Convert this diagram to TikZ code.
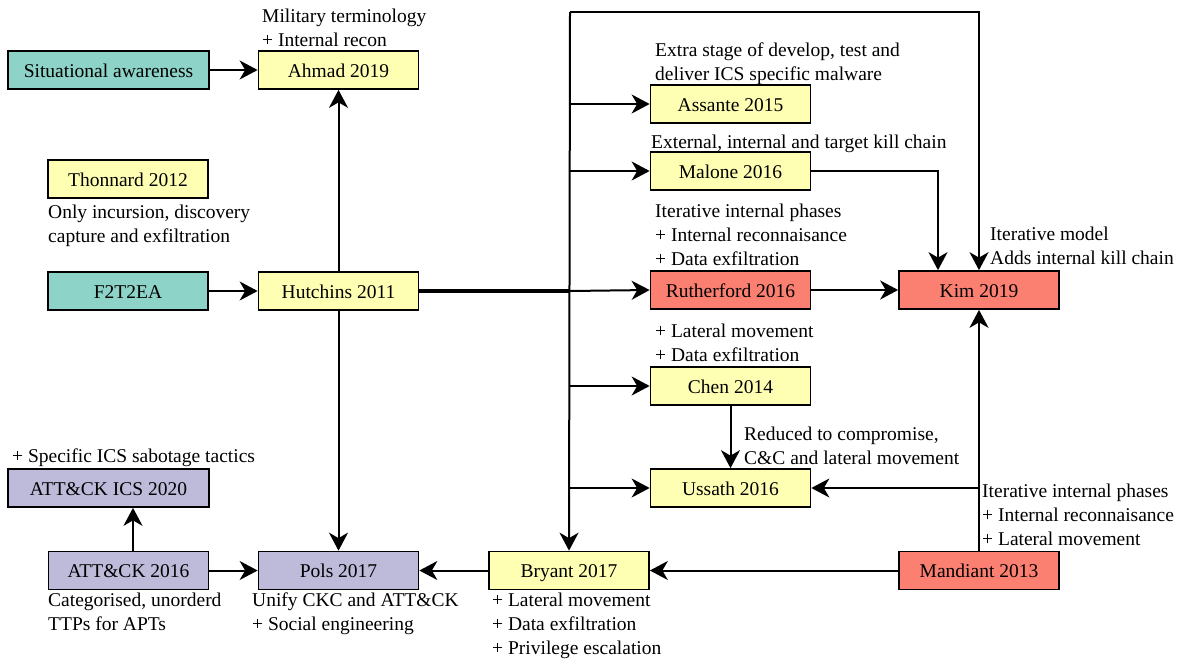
\documentclass[tikz,border=0pt]{standalone}
\usepackage{fontspec}
\setmainfont{Liberation Serif}
\usetikzlibrary{arrows.meta}
\definecolor{cteal}{HTML}{8DD3C7}
\definecolor{cyellow}{HTML}{FFFFB3}
\definecolor{cpurple}{HTML}{BEBADA}
\definecolor{csalmon}{HTML}{FB8072}
\tikzset{
  model/.style={draw, line width=1.7pt, minimum width=160pt, minimum height=38pt,
    inner sep=0pt, text height=16pt, text depth=2pt,
    font=\fontsize{19.5}{24}\selectfont},
  wide/.style={minimum width=201pt},
  % notes are placed by the baseline of their last line
  note/.style={anchor=base west, inner sep=0pt, align=left,
    font=\fontsize{19.5}{24}\selectfont},
  arr/.style={line width=2pt, -{Stealth[length=18pt, width=19pt, inset=5.5pt]}},
}
\begin{document}
\begin{tikzpicture}[x=1pt, y=-1pt]
\useasboundingbox (0,0) rectangle (1183,664);

% model boxes
\node[model, wide, fill=cteal]   (sit)  at (108.5,70)  {Situational awareness};
\node[model, fill=cyellow]       (ahm)  at (338.5,70)  {Ahmad 2019};
\node[model, fill=cyellow]       (thon) at (128,179)   {Thonnard 2012};
\node[model, fill=cteal]         (ftt)  at (128,291)   {F2T2EA};
\node[model, fill=cyellow]       (hut)  at (338.5,291) {Hutchins 2011};
\node[model, fill=cyellow]       (ass)  at (730.5,104) {Assante 2015};
\node[model, fill=cyellow]       (mal)  at (730.5,171) {Malone 2016};
\node[model, fill=csalmon]       (ruth) at (730.5,290) {Rutherford 2016};
\node[model, fill=csalmon]       (kim)  at (979,290)   {Kim 2019};
\node[model, fill=cyellow]       (chen) at (730.5,386) {Chen 2014};
\node[model, fill=cyellow]       (uss)  at (730.5,488) {Ussath 2016};
\node[model, wide, fill=cpurple] (ics)  at (108.5,488) {ATT\&CK ICS 2020};
\node[model, fill=cpurple]       (att)  at (128.5,570.5) {ATT\&CK 2016};
\node[model, fill=cpurple]       (pols) at (338.5,570.5) {Pols 2017};
\node[model, fill=cyellow]       (bry)  at (569,570.5) {Bryant 2017};
\node[model, fill=csalmon]       (mand) at (979,570.5) {Mandiant 2013};

% annotations
\node[note] (nahm)  at (262,46)  {Military terminology\\+ Internal recon};
\node[note] (nass)  at (655,80)  {Extra stage of develop, test and\\deliver ICS specific malware};
\node[note] (nmal)  at (651,148) {External, internal and target kill chain};
\node[note] (nruth) at (655,265) {Iterative internal phases\\+ Internal reconnaisance\\+ Data exfiltration};
\node[note] (nkim)  at (990,264) {Iterative model\\Adds internal kill chain};
\node[note] (nthon) at (48,242)  {Only incursion, discovery\\capture and exfiltration};
\node[note] (nchen) at (655,361) {+ Lateral movement\\+ Data exfiltration};
\node[note] (nuss)  at (744,464) {Reduced to compromise,\\C\&C and lateral movement};
\node[note] (nmand) at (982,545) {Iterative internal phases\\+ Internal reconnaisance\\+ Lateral movement};
\node[note] (nics)  at (12,462)  {+ Specific ICS sabotage tactics};
\node[note] (natt)  at (48,630)  {Categorised, unorderd\\TTPs for APTs};
\node[note] (npols) at (252,630) {Unify CKC and ATT\&CK\\+ Social engineering};
\node[note] (nbry)  at (492,654) {+ Lateral movement\\+ Data exfiltration\\+ Privilege escalation};

% trunk from Hutchins 2011
\coordinate (hub) at (570,291);
\coordinate (top) at (570,12);
\draw[line width=3.6pt] (hut.east) -- (hub);
\draw[arr] (top) -- (bry.north);
\draw[arr] (top) -| (kim.north);
\draw[arr] (top |- ass.west)  -- (ass.west);
\draw[arr] (top |- mal.west)  -- (mal.west);
\draw[arr] (hub) -- (ruth.west);
\draw[arr] (top |- chen.west) -- (chen.west);
\draw[arr] (top |- uss.west)  -- (uss.west);

% other connectors
\draw[arr] (sit.east) -- (ahm.west);
\draw[arr] (hut.north) -- (ahm.south);
\draw[arr] (hut.south) -- (pols.north);
\draw[arr] (ftt.east) -- (hut.west);
\draw[arr] (mal.east) -| ([xshift=-41pt]kim.north);
\draw[arr] (ruth.east) -- (kim.west);
\draw[arr] (chen.south) -- (uss.north);
\draw[arr] (mand.north) -- (kim.south);
\draw[arr] (mand.north) |- (uss.east);
\draw[arr] (mand.west) -- (bry.east);
\draw[arr] (bry.west) -- (pols.east);
\draw[arr] (att.east) -- (pols.west);
\draw[arr] ([xshift=4.5pt]att.north) -- ([xshift=4.5pt]att.north |- ics.south);
\end{tikzpicture}
\end{document}
